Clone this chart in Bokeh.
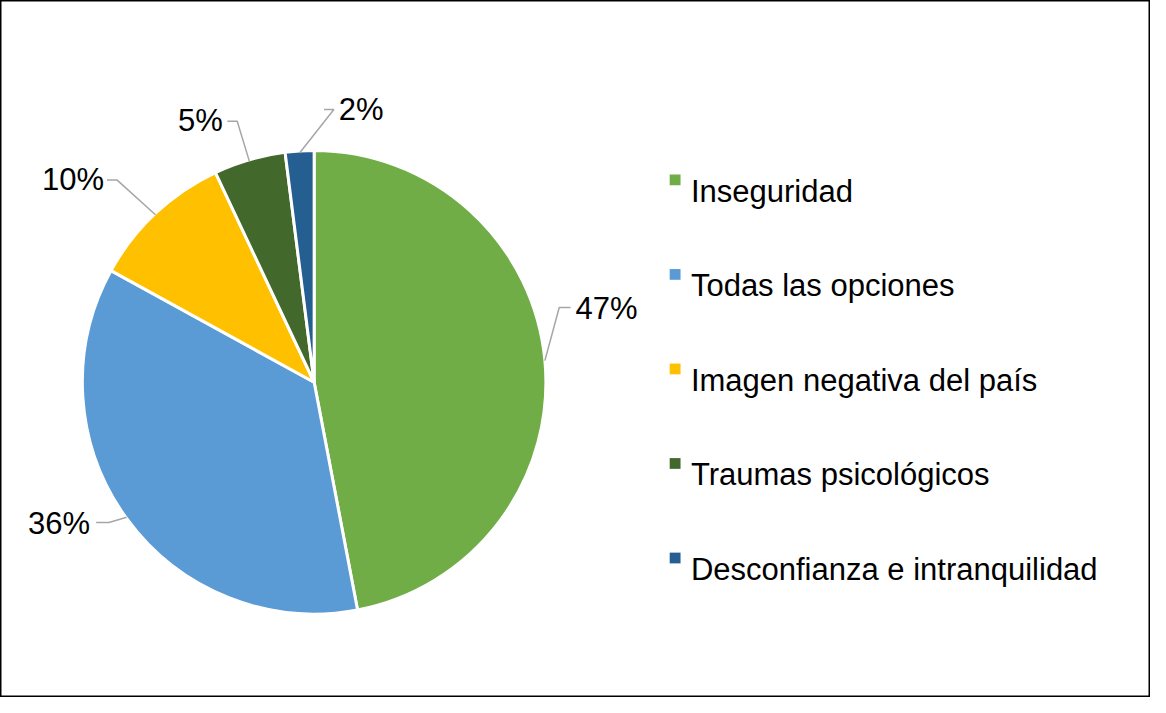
import numpy as np
from bokeh.plotting import figure
from bokeh.models import Range1d, ColumnDataSource
from bokeh.core.properties import value
from bokeh.embed import file_html
from bokeh.resources import INLINE

# ---- data ----
categories = ["Inseguridad", "Todas las opciones", "Imagen negativa del país",
              "Traumas psicológicos", "Desconfianza e intranquilidad"]
percent = [47, 36, 10, 5, 2]
colors = ["#70AD47", "#5B9BD5", "#FFC000", "#43682B", "#255E91"]

# ---- layout (reference-frame coordinates, y downward) ----
W, H = 1150, 697
REF_W, REF_H = 1166, 713
CX, CY, R = 318, 390.5, 235
FONT = value("Liberation Sans")
FSIZE = "31px"
# per label: text left x, text baseline y, elbow x, elbow y, horizontal end x
label_layout = [
    (583, 315, 566.5, 314, 578),
    (28, 535, 110, 534, 97),
    (42, 183, 118, 183.5, 108),
    (180, 123, 240, 123.5, 230),
    (343, 112, 338, 111.5, 328),
]
legend_x_box, legend_x_text = 684, 700
legend_baseline0, legend_step = 195, 96.7

p = figure(width=W, height=H, output_backend="svg", toolbar_location=None,
           x_axis_type=None, y_axis_type=None, min_border=0,
           x_range=Range1d(0, REF_W), y_range=Range1d(REF_H, 0),
           background_fill_color="white", border_fill_color="white")
p.grid.visible = False
p.outline_line_color = "black"
p.outline_line_width = 2

frac = np.array(percent, dtype=float) / sum(percent)
cum = np.concatenate([[0], np.cumsum(frac)])
start = np.pi / 2 - 2 * np.pi * cum[:-1]
end = np.pi / 2 - 2 * np.pi * cum[1:]

src = ColumnDataSource(dict(x=[CX] * len(percent), y=[CY] * len(percent),
                            start=start, end=end, color=colors, cat=categories))
p.wedge(x="x", y="y", radius=R, start_angle="start", end_angle="end",
        direction="clock", fill_color="color", line_color="white",
        line_width=3, source=src)

# leader lines and percentage labels
mid = 2 * np.pi * (cum[:-1] + cum[1:]) / 2  # clockwise from top
for i, pct in enumerate(percent):
    tx, tb, ex, ey, hx = label_layout[i]
    px = CX + R * np.sin(mid[i])
    py = CY - R * np.cos(mid[i])
    p.line([px, ex, hx], [py, ey, ey], line_color="#A6A6A6", line_width=1.5)
    p.text(x=[tx], y=[tb], text=[f"{pct}%"], text_font=FONT,
           text_font_size=FSIZE, text_color="black",
           text_baseline="alphabetic", text_align="left")

# legend
for i, cat in enumerate(categories):
    b = legend_baseline0 + i * legend_step
    p.rect(x=[legend_x_box], y=[b - 11.5], width=11, height=11,
           fill_color=colors[i], line_color=None)
    p.text(x=[legend_x_text], y=[b], text=[cat], text_font=FONT,
           text_font_size=FSIZE, text_color="black",
           text_baseline="alphabetic", text_align="left")

open("out.html", "w").write(file_html(p, INLINE))
